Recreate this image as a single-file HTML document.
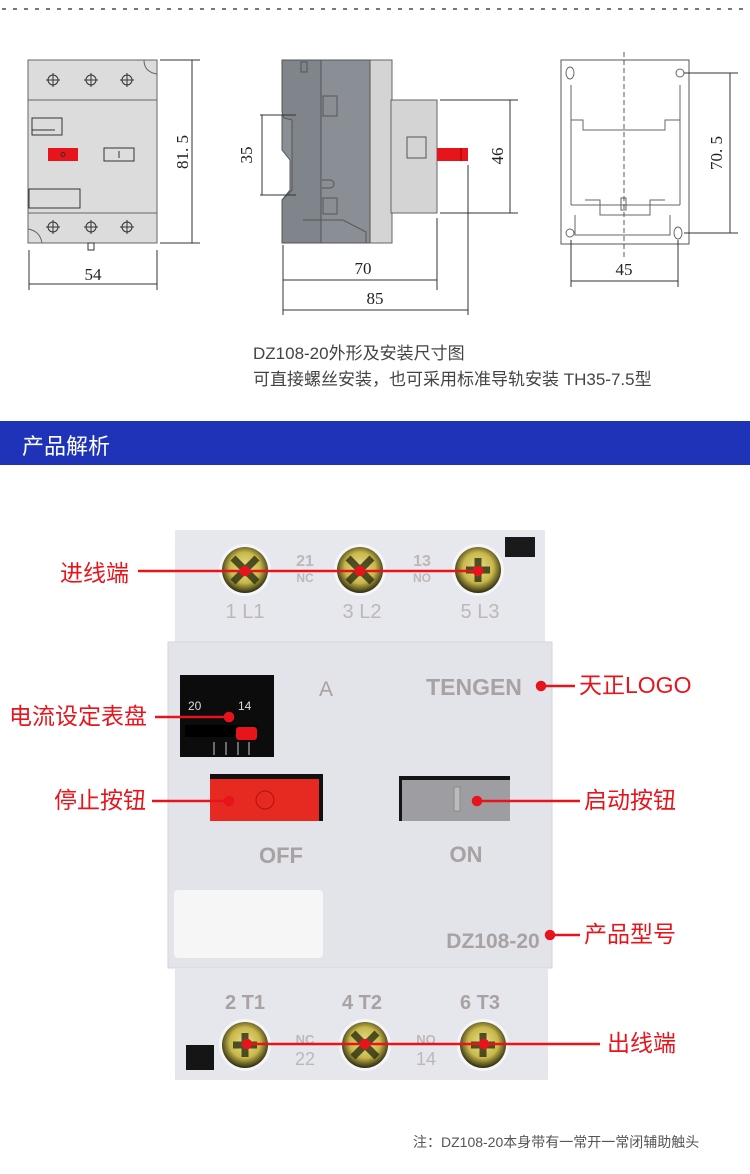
<!DOCTYPE html>
<html><head><meta charset="utf-8"><style>
body{margin:0;width:750px;height:1174px;background:#fff;position:relative;overflow:hidden;font-family:"Liberation Sans","Noto Sans CJK SC",sans-serif}
.a{position:absolute;white-space:nowrap}
.lbl{position:absolute;color:#e8141b;font-size:23px;line-height:23px;white-space:nowrap;font-family:"Liberation Sans","Noto Sans CJK SC",sans-serif}
</style></head><body>
<svg class="a" style="left:0;top:0" width="750" height="320" xmlns="http://www.w3.org/2000/svg" font-family="Liberation Serif, serif">
<line x1="2" y1="9" x2="750" y2="9" stroke="#777" stroke-width="2" stroke-dasharray="4 7"/>
<rect x="28" y="60" width="129" height="183" fill="#dcdcdc" stroke="#666"/>
<line x1="28" y1="100" x2="157" y2="100" stroke="#666"/><line x1="28" y1="213" x2="157" y2="213" stroke="#666"/>
<path d="M144 60 Q144 72 157 74" fill="none" stroke="#666"/><path d="M28 229 Q40 231 42 243" fill="none" stroke="#666"/>
<g stroke="#333" fill="none">
<circle cx="53" cy="80" r="5"/><line x1="53" y1="73" x2="53" y2="87"/><line x1="46" y1="80" x2="60" y2="80"/>
<circle cx="91" cy="80" r="5"/><line x1="91" y1="73" x2="91" y2="87"/><line x1="84" y1="80" x2="98" y2="80"/>
<circle cx="127" cy="80" r="5"/><line x1="127" y1="73" x2="127" y2="87"/><line x1="120" y1="80" x2="134" y2="80"/>
<circle cx="53" cy="227" r="5"/><line x1="53" y1="220" x2="53" y2="234"/><line x1="46" y1="227" x2="60" y2="227"/>
<circle cx="91" cy="227" r="5"/><line x1="91" y1="220" x2="91" y2="234"/><line x1="84" y1="227" x2="98" y2="227"/>
<circle cx="127" cy="227" r="5"/><line x1="127" y1="220" x2="127" y2="234"/><line x1="120" y1="227" x2="134" y2="227"/>
<rect x="32" y="118" width="30" height="17"/><line x1="32" y1="130" x2="55" y2="130"/>
<rect x="104" y="148" width="30" height="13" fill="#ddd"/><line x1="119" y1="151" x2="119" y2="158"/>
<rect x="29" y="189" width="51" height="19"/>
<rect x="88" y="243" width="6" height="7"/>
</g>
<rect x="48" y="148" width="30" height="13" fill="#e8141b"/><circle cx="63" cy="154.5" r="2" fill="none" stroke="#333"/>
<g stroke="#333" stroke-width="1">
<line x1="160" y1="60" x2="200" y2="60"/><line x1="160" y1="243" x2="200" y2="243"/><line x1="192" y1="60" x2="192" y2="243"/>
<line x1="29" y1="250" x2="29" y2="290"/><line x1="157" y1="250" x2="157" y2="290"/><line x1="29" y1="284" x2="157" y2="284"/>
</g>
<text x="93" y="280" font-size="17" text-anchor="middle" fill="#222">54</text>
<text transform="translate(188,152) rotate(-90)" font-size="17" text-anchor="middle" fill="#222">81. 5</text>
<rect x="370" y="60" width="22" height="183" fill="#d4d4d4" stroke="#666"/>
<rect x="391" y="100" width="46" height="113" fill="#d4d4d4" stroke="#666"/>
<path d="M282 60 H370 V243 H282 V200 L290 190 V160 L282 150 V115 L290 105 V60 Z" fill="#8a8f96" stroke="#555"/>
<path d="M282 60 H321 V243 H282 V200 L292 190 V120 L284 118 L282 112 Z" fill="#80858c" stroke="#555"/>
<g fill="none" stroke="#555"><rect x="301" y="62" width="6" height="10"/><rect x="323" y="96" width="14" height="20"/><path d="M322 180 h8 a4 4 0 0 1 0 8 h-8"/><rect x="323" y="198" width="14" height="16"/><path d="M303 220 H343 L366 232 V243"/></g>
<rect x="407" y="137" width="19" height="21" fill="none" stroke="#555"/>
<rect x="437" y="148" width="31" height="13" fill="#e8141b"/><line x1="461" y1="148" x2="461" y2="161" stroke="#900"/>
<g stroke="#333">
<line x1="260" y1="115" x2="296" y2="115"/><line x1="260" y1="195" x2="296" y2="195"/><line x1="262" y1="115" x2="262" y2="195"/>
<line x1="440" y1="100" x2="518" y2="100"/><line x1="440" y1="213" x2="518" y2="213"/><line x1="510" y1="100" x2="510" y2="213"/>
<line x1="283" y1="245" x2="283" y2="315"/><line x1="437" y1="218" x2="437" y2="290"/><line x1="468" y1="165" x2="468" y2="315"/>
<line x1="283" y1="280" x2="437" y2="280"/><line x1="283" y1="310" x2="468" y2="310"/>
</g>
<text transform="translate(252,155) rotate(-90)" font-size="17" text-anchor="middle" fill="#222">35</text>
<text transform="translate(503,156) rotate(-90)" font-size="17" text-anchor="middle" fill="#222">46</text>
<text x="363" y="274" font-size="17" text-anchor="middle" fill="#222">70</text>
<text x="375" y="304" font-size="17" text-anchor="middle" fill="#222">85</text>
<rect x="561" y="60" width="128" height="184" fill="#fff" stroke="#555"/>
<g stroke="#666" fill="none">
<path d="M571 85 V120 H583 V130 H665 V120 H680 V85"/>
<path d="M571 120 V205 M680 120 V205"/>
<path d="M585 200 H600 V215 H650 V200 H665"/>
<path d="M571 205 H680"/><path d="M575 215 V235 H670 V215"/>
<ellipse cx="570" cy="73" rx="4" ry="6"/><circle cx="680" cy="73" r="4"/>
<circle cx="570" cy="233" r="4"/><ellipse cx="678" cy="233" rx="4" ry="6"/>
<rect x="621" y="198" width="5" height="12"/>
</g>
<line x1="624" y1="52" x2="624" y2="258" stroke="#555" stroke-dasharray="5 3"/>
<g stroke="#333">
<line x1="684" y1="73" x2="738" y2="73"/><line x1="684" y1="233" x2="738" y2="233"/><line x1="730" y1="73" x2="730" y2="233"/>
<line x1="571" y1="240" x2="571" y2="287"/><line x1="678" y1="240" x2="678" y2="287"/><line x1="571" y1="281" x2="678" y2="281"/>
</g>
<text transform="translate(722,153) rotate(-90)" font-size="17" text-anchor="middle" fill="#222">70. 5</text>
<text x="624" y="275" font-size="17" text-anchor="middle" fill="#222">45</text>
</svg>
<div class="a" style="left:253px;top:341px;font-size:17px;line-height:26px;color:#444;font-family:'Liberation Sans','Noto Sans CJK SC',sans-serif">DZ108-20外形及安装尺寸图<br>可直接螺丝安装，也可采用标准导轨安装 TH35-7.5型</div>
<div class="a" style="left:0;top:421px;width:750px;height:44px;background:#1e33b8"></div>
<div class="a" style="left:22px;top:429px;font-size:22px;color:#fff;font-family:'Liberation Sans','Noto Sans CJK SC',sans-serif">产品解析</div>

<svg class="a" style="left:0;top:520px" width="750" height="580" xmlns="http://www.w3.org/2000/svg" font-family="Liberation Sans, sans-serif">
<defs>
<radialGradient id="sc" cx="50%" cy="45%" r="55%"><stop offset="0" stop-color="#e8e090"/><stop offset="0.6" stop-color="#c9b84a"/><stop offset="1" stop-color="#2a2a10"/></radialGradient>
</defs>
<rect x="175" y="10" width="370" height="115" fill="#e7e7ee"/>
<rect x="505" y="17" width="30" height="20" fill="#1a1a1a"/>
<rect x="168" y="122" width="384" height="326" fill="#e3e3ea" stroke="#d5d5dc"/>
<rect x="175" y="448" width="373" height="112" fill="#e6e6ed"/>
<rect x="186" y="525" width="28" height="25" fill="#151515"/>
<g>
<circle cx="245" cy="50" r="26" fill="#f6f6f8"/><circle cx="245" cy="50" r="23" fill="url(#sc)"/>
<circle cx="360" cy="50" r="26" fill="#f6f6f8"/><circle cx="360" cy="50" r="23" fill="url(#sc)"/>
<circle cx="478" cy="50" r="26" fill="#f6f6f8"/><circle cx="478" cy="50" r="23" fill="url(#sc)"/>
<circle cx="245" cy="525" r="26" fill="#f6f6f8"/><circle cx="245" cy="525" r="23" fill="url(#sc)"/>
<circle cx="365" cy="525" r="26" fill="#f6f6f8"/><circle cx="365" cy="525" r="23" fill="url(#sc)"/>
<circle cx="483" cy="525" r="26" fill="#f6f6f8"/><circle cx="483" cy="525" r="23" fill="url(#sc)"/>
</g>
<g stroke="#2a3010" stroke-width="7" opacity="0.8">
<line x1="233" y1="38" x2="257" y2="62"/><line x1="257" y1="38" x2="233" y2="62"/>
<line x1="348" y1="38" x2="372" y2="62"/><line x1="372" y1="38" x2="348" y2="62"/>
<line x1="466" y1="50" x2="490" y2="50"/><line x1="478" y1="38" x2="478" y2="62"/>
<line x1="233" y1="525" x2="257" y2="525"/><line x1="245" y1="513" x2="245" y2="537"/>
<line x1="353" y1="513" x2="377" y2="537"/><line x1="377" y1="513" x2="353" y2="537"/>
<line x1="471" y1="525" x2="495" y2="525"/><line x1="483" y1="513" x2="483" y2="537"/>
</g>
<g fill="#bdb8b8" font-weight="bold">
<text x="305" y="46" font-size="16" text-anchor="middle">21</text><text x="305" y="62" font-size="12" text-anchor="middle">NC</text>
<text x="422" y="46" font-size="16" text-anchor="middle">13</text><text x="422" y="62" font-size="12" text-anchor="middle">NO</text>
<text x="245" y="98" font-size="20" text-anchor="middle" font-weight="normal">1 L1</text>
<text x="362" y="98" font-size="20" text-anchor="middle" font-weight="normal">3 L2</text>
<text x="480" y="98" font-size="20" text-anchor="middle" font-weight="normal">5 L3</text>
<text x="305" y="524" font-size="13" text-anchor="middle">NC</text><text x="305" y="545" font-size="18" text-anchor="middle" font-weight="normal">22</text>
<text x="426" y="524" font-size="13" text-anchor="middle">NO</text><text x="426" y="545" font-size="18" text-anchor="middle" font-weight="normal">14</text>
</g>
<g fill="#a8a2a2" font-weight="bold">
<text x="245" y="489" font-size="20" text-anchor="middle">2 T1</text>
<text x="362" y="489" font-size="20" text-anchor="middle">4 T2</text>
<text x="480" y="489" font-size="20" text-anchor="middle">6 T3</text>
<text x="326" y="176" font-size="21" text-anchor="middle" font-weight="normal">A</text>
<text x="474" y="175" font-size="23" text-anchor="middle">TENGEN</text>
<text x="281" y="343" font-size="22" text-anchor="middle">OFF</text>
<text x="466" y="342" font-size="22" text-anchor="middle">ON</text>
<text x="493" y="428" font-size="21" text-anchor="middle">DZ108-20</text>
</g>
<rect x="180" y="155" width="94" height="82" fill="#0c0c0c"/>
<text x="188" y="190" font-size="12" fill="#ddd">20</text><text x="238" y="190" font-size="12" fill="#ddd">14</text>
<rect x="185" y="205" width="72" height="12" fill="#000"/><rect x="236" y="207" width="21" height="13" rx="3" fill="#e8141b"/>
<g stroke="#ccc"><line x1="214" y1="222" x2="214" y2="235"/><line x1="226" y1="222" x2="226" y2="235"/><line x1="238" y1="222" x2="238" y2="235"/><line x1="249" y1="222" x2="249" y2="235"/></g>
<rect x="210" y="254" width="113" height="47" fill="#111"/>
<rect x="210" y="259" width="109" height="42" fill="#e62a22"/><circle cx="265" cy="280" r="9" fill="none" stroke="#b01010"/>
<rect x="399" y="256" width="111" height="45" fill="#151515"/>
<rect x="402" y="260" width="108" height="41" fill="#9e9ea2"/><rect x="454" y="267" width="6" height="24" fill="#bbb" stroke="#888"/>
<rect x="174" y="370" width="149" height="68" rx="4" fill="#f6f6f6"/>
</svg>

<svg class="a" style="left:0;top:520px" width="750" height="580" xmlns="http://www.w3.org/2000/svg">
<g stroke="#e8141b" stroke-width="2.5" fill="#e8141b">
<line x1="138" y1="51" x2="478" y2="51"/><circle cx="245" cy="51" r="4"/><circle cx="360" cy="51" r="4"/><circle cx="478" cy="51" r="4"/>
<line x1="155" y1="197" x2="229" y2="197"/><circle cx="229" cy="197" r="4"/>
<line x1="152" y1="281" x2="229" y2="281"/><circle cx="229" cy="281" r="4"/>
<line x1="541" y1="166" x2="575" y2="166"/><circle cx="541" cy="166" r="4"/>
<line x1="477" y1="281" x2="580" y2="281"/><circle cx="477" cy="281" r="4"/>
<line x1="550" y1="415" x2="580" y2="415"/><circle cx="550" cy="415" r="4"/>
<line x1="247" y1="524" x2="600" y2="524"/><circle cx="247" cy="524" r="4"/><circle cx="365" cy="524" r="4"/><circle cx="484" cy="524" r="4"/>
</g>
</svg>
<div class="lbl" style="left:60px;top:562px">进线端</div>
<div class="lbl" style="left:9px;top:705px">电流设定表盘</div>
<div class="lbl" style="left:54px;top:789px">停止按钮</div>
<div class="lbl" style="left:579px;top:674px">天正LOGO</div>
<div class="lbl" style="left:584px;top:789px">启动按钮</div>
<div class="lbl" style="left:584px;top:923px">产品型号</div>
<div class="lbl" style="left:607px;top:1032px">出线端</div>
<div class="a" style="left:413px;top:1132px;font-size:14px;color:#555;font-family:'Liberation Sans','Noto Sans CJK SC',sans-serif">注：DZ108-20本身带有一常开一常闭辅助触头</div>
</body></html>
